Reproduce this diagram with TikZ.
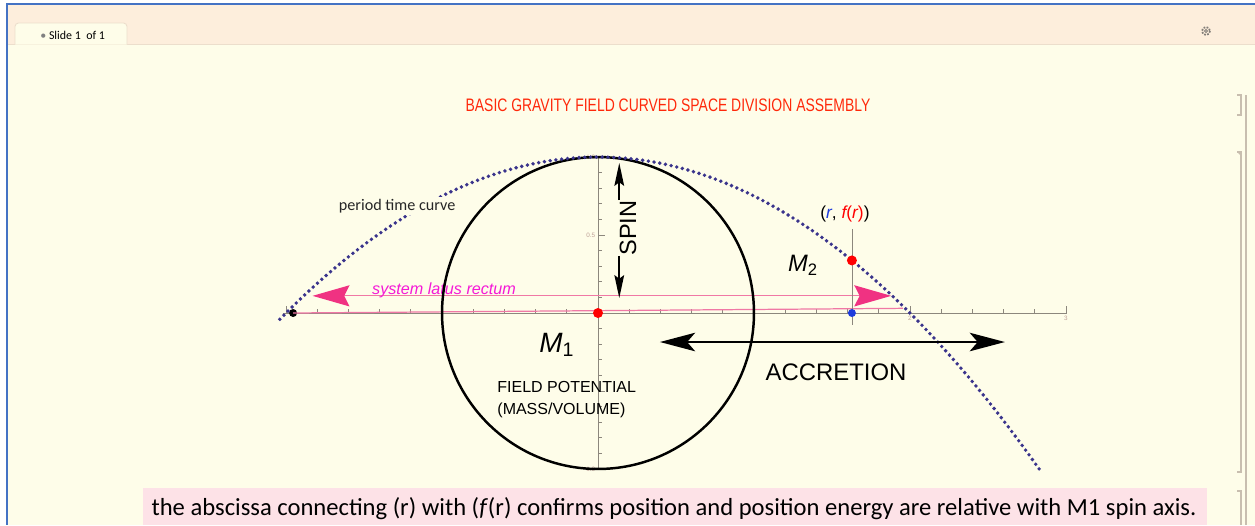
\documentclass[tikz,border=0pt]{standalone}
\usepackage{fontspec}
\setmainfont{Carlito}
\setsansfont{Liberation Sans}
\usepackage{xcolor}
\usepackage{tikz}
\usetikzlibrary{arrows.meta, positioning}
\definecolor{pagebg}{RGB}{254,253,233}
\definecolor{barbg}{RGB}{253,238,220}
\definecolor{barline}{RGB}{236,222,204}
\definecolor{frameblue}{RGB}{68,114,196}
\definecolor{gearcol}{RGB}{130,125,120}
\definecolor{titlered}{RGB}{255,40,10}
\definecolor{curvenavy}{RGB}{58,52,140}
\definecolor{lrpink}{RGB}{240,50,130}
\definecolor{lrline}{RGB}{240,120,165}
\definecolor{lrtext}{RGB}{245,25,215}
\definecolor{axisgray}{RGB}{140,135,125}
\definecolor{ticklabel}{RGB}{190,160,150}
\definecolor{bracketgray}{RGB}{200,190,175}
\definecolor{captionpink}{RGB}{253,226,231}
\definecolor{rblue}{RGB}{30,60,220}
\tikzstyle{axisline} = [draw=axisgray, line width=0.45pt]
\tikzstyle{ticklbl} = [text=ticklabel, font=\sffamily\fontsize{3.6}{4}\selectfont, inner sep=0.5pt]
\tikzstyle{fieldcircle} = [draw=black, line width=1.4pt]
\tikzstyle{periodcurve} = [draw=curvenavy, line width=2.2pt, line cap=round, dash pattern=on 0pt off 3.3pt]
\tikzstyle{latusarrow} = [draw=lrline, line width=0.7pt, {Stealth[length=21pt, width=12pt, inset=3pt, color=lrpink]}-{Stealth[length=21pt, width=12pt, inset=3pt, color=lrpink]}]
\tikzstyle{spinarrow} = [draw=black, line width=1.1pt, -{Stealth[length=13pt, width=5.5pt, inset=2pt]}]
\tikzstyle{accretionarrow} = [draw=black, line width=1.3pt, {Stealth[length=20pt, width=10.5pt, inset=4.5pt]}-{Stealth[length=20pt, width=10.5pt, inset=4.5pt]}]
\tikzstyle{massdot} = [circle, inner sep=0pt, minimum size=0.2cm]
\tikzstyle{plotlabel} = [font=\sffamily, inner sep=0pt]
\tikzstyle{bracket} = [draw=bracketgray, line width=0.6pt]

\begin{document}
\begin{tikzpicture}[x=0.02cm, y=-0.02cm]
    \useasboundingbox (0,0) rectangle (1255,525);
    % notebook window
    \fill[pagebg] (7,4) rectangle (1255,525);
    \fill[barbg] (7,4) rectangle (1255,44);
    \draw[barline] (7,44) -- (1255,44);
    \filldraw[fill=pagebg, draw=barline, line width=0.5pt, rounded corners=2pt] (15,44.5) -- (15,23) -- (127,23) -- (127,44.5);
    \node (tab_lbl) [font=\fontsize{6.8}{8}\selectfont, anchor=west, inner sep=0pt] at (40,35) {{\color{gray}\textbullet}\ Slide\ 1\ \ of\ 1};
    \coordinate (gear) at (1206,31);
    \draw[gearcol, line width=1pt, dash pattern=on 1pt off 0.8pt] (gear) circle (4);
    \draw[gearcol, line width=0.5pt] (gear) circle (1.6);
    \draw[frameblue, line width=1.2pt] (1255,4) -- (7,4) -- (7,525);

    \draw[bracket] (1237,95) -- (1241,95) -- (1241,115) -- (1237,115);
    \draw[bracket] (1246,95) -- (1246,525);
    \draw[bracket] (1237,152) -- (1241,152) -- (1241,472) -- (1237,472);
    \fill[bracketgray] (1237,152) -- (1241,152) -- (1241,156) -- cycle;
    \draw[bracket] (1237,491) -- (1241,491) -- (1241,525);

    \node (title) [text=titlered, font=\sffamily\fontsize{10.3}{12}\selectfont] at (668,105) {\scalebox{0.77}[1]{BASIC GRAVITY FIELD CURVED SPACE DIVISION ASSEMBLY}};

    % caption
    \fill[captionpink] (143,488) rectangle (1207,525);
    \node (caption) [anchor=base, inner sep=0pt, font=\fontsize{14}{16}\selectfont] at (674,515) {the abscissa connecting (r) with (\textit{f}(r) confirms position and position energy are relative with M1 spin axis.};

    % plot
    \begin{scope}[shift={(598,313)}, x=3.12cm, y=3.12cm]
        \draw[axisline] (-2.02,0) -- (3.01,0);
        \foreach \t in {-2,-1.8,...,3} \draw[axisline] (\t,0) -- (\t,0.025);
        \foreach \t in {-2,-1,1,2,3} \draw[axisline] (\t,0) -- (\t,0.045);
        \draw[axisline] (0,-1) -- (0,1);
        \foreach \t in {-1,-0.9,...,1} \draw[axisline] (0,\t) -- (0.025,\t);
        \foreach \t in {-1,-0.5,0.5,1} \draw[axisline] (0,\t) -- (0.045,\t);
        \node (tick_x2) [ticklbl, anchor=north] at (2,-0.01) {2};
        \node (tick_x3) [ticklbl, anchor=north] at (3,-0.01) {3};
        \node (tick_y1) [ticklbl, anchor=east] at (-0.01,1) {1.0};
        \node (tick_y05) [ticklbl, anchor=east] at (-0.01,0.5) {0.5};
        \node (tick_ym1) [ticklbl, anchor=east] at (-0.01,-1) {-1.0};

        \coordinate (origin) at (0,0);
        \coordinate (lr_left) at (-1.83,0.11);
        \coordinate (lr_right) at (1.88,0.11);
        \coordinate (abscissa_end) at (1.955,0.03);
        \node (black_dot) [massdot, fill=black, minimum size=0.16cm] at (-1.955,0) {};
        \draw[lrline, line width=0.7pt] (black_dot.center) -- (abscissa_end);
        \draw[latusarrow] (lr_right) -- (lr_left);
        \node (lr_lbl) [plotlabel, text=lrtext, font=\sffamily\itshape\fontsize{9.2}{11}\selectfont] at (-0.987,0.147) {system latus rectum};

        \draw[fieldcircle] (origin) circle (1);
        \draw[periodcurve] plot[domain=-2.04:2.83, samples=120] (\x, {1-0.25*\x*\x});
        \node (period_lbl) [fill=pagebg, inner sep=1pt, text=black!85, font=\fontsize{9.2}{11}\selectfont] at (-1.288,0.686) {period time curve};

        % spin axis
        \coordinate (spin_top) at (0.135,0.962);
        \coordinate (spin_bot) at (0.135,0.096);
        \node (spin_lbl) [plotlabel, rotate=90, font=\sffamily\fontsize{13.4}{15}\selectfont] at (0.192,0.545) {SPIN};
        \draw[spinarrow] (spin_lbl.north east) -- (spin_lbl.north east |- spin_top);
        \draw[spinarrow] (spin_lbl.north west) -- (spin_lbl.north west |- spin_bot);

        % r and f(r)
        \coordinate (r_top) at (1.628,0.54);
        \coordinate (r_bot) at (1.628,-0.08);
        \draw[axisline] (r_top) -- (r_bot);
        \node (fr_lbl) [plotlabel, font=\sffamily\fontsize{9.9}{11}\selectfont, above=0.12cm of r_top, xshift=-0.14cm] {(\textcolor{rblue}{\itshape r}, \textcolor{red}{\itshape f\upshape(\itshape r\upshape)})};
        \node (fr_dot) [massdot, fill=red] at (1.628,0.337) {};
        \node (r_dot) [massdot, fill=rblue, minimum size=0.16cm] at (1.628,0) {};
        \node (center_dot) [massdot, fill=red] at (origin) {};

        \node (m1_lbl) [plotlabel, font=\sffamily\itshape\fontsize{15.9}{18}\selectfont] at (-0.263,-0.205) {M\textsubscript{\upshape 1}};
        \node (m2_lbl) [plotlabel, font=\sffamily\itshape\fontsize{13.5}{16}\selectfont] at (1.314,0.308) {M\textsubscript{\upshape 2}};
        \node (field_lbl) [plotlabel, anchor=north west, align=left, font=\sffamily\fontsize{9.1}{12.5}\selectfont] at (-0.647,-0.436) {FIELD POTENTIAL\\(MASS/VOLUME)};

        % accretion
        \coordinate (acc_left) at (0.397,-0.186);
        \coordinate (acc_right) at (2.609,-0.186);
        \draw[accretionarrow] (acc_left) -- (acc_right);
        \node (acc_lbl) [plotlabel, font=\sffamily\fontsize{13.6}{16}\selectfont] at (1.526,-0.378) {ACCRETION};
    \end{scope}
\end{tikzpicture}
\end{document}
